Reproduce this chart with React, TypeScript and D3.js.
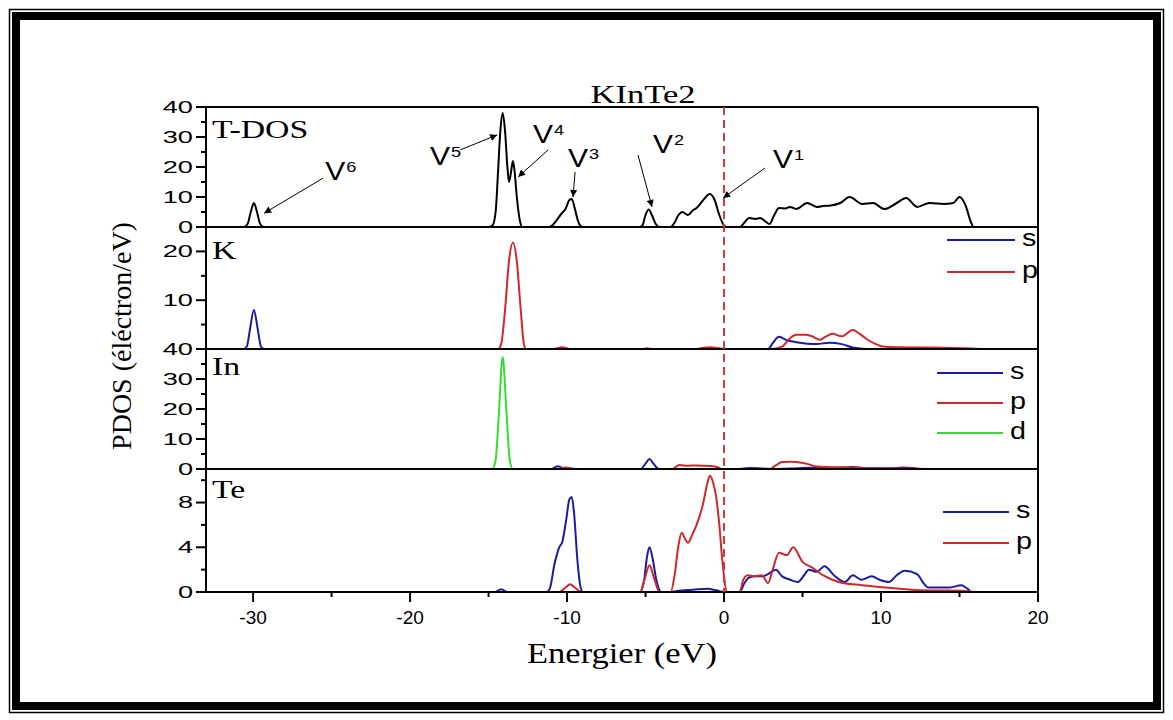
import React from 'react';
import * as d3 from 'd3';

// energy (eV) vs states
const tdos: [number, number][] = [
  [-32, 0], [-30.6, 0], [-30.35, 1], [-30.15, 5], [-29.95, 8], [-29.75, 5], [-29.55, 1], [-29.3, 0],
  [-15.0, 0], [-14.75, 0.5], [-14.55, 5], [-14.4, 18], [-14.25, 32], [-14.1, 38], [-13.95, 32], [-13.8, 20], [-13.7, 15],
  [-13.55, 19], [-13.45, 22], [-13.35, 19], [-13.2, 10], [-13.0, 2], [-12.85, 0],
  [-11.2, 0], [-11.0, 0.3], [-10.7, 2], [-10.35, 4.5], [-10.1, 6], [-9.85, 9], [-9.7, 9.3], [-9.5, 6], [-9.3, 2], [-9.1, 0.2], [-8.9, 0],
  [-5.4, 0], [-5.2, 0.5], [-5.0, 4], [-4.8, 5.8], [-4.6, 4], [-4.35, 1], [-4.1, 0],
  [-3.4, 0], [-3.15, 1.5], [-2.9, 4], [-2.65, 5], [-2.3, 4], [-2.0, 5.5], [-1.75, 6.3], [-1.4, 8.5], [-0.9, 11], [-0.6, 9],
  [-0.3, 4], [0.0, 0.5], [0.2, 0],
  [1.0, 0], [1.3, 1.5], [1.6, 3], [2.0, 2.7], [2.3, 3], [2.6, 2], [2.9, 1], [3.2, 4], [3.5, 6.3], [3.9, 6.2], [4.2, 6.7],
  [4.6, 6], [5.3, 8], [5.9, 6.7], [6.3, 7], [6.8, 7.2], [7.4, 8], [8.0, 10], [8.8, 7.7], [9.5, 8], [10.2, 6], [11.0, 8],
  [11.6, 9.7], [12.3, 6.7], [13.1, 8], [14.0, 7.7], [14.6, 8], [15.0, 10], [15.4, 7], [15.7, 2], [15.9, 0], [18, 0],
];

const kS: [number, number][] = [
  [-32, 0], [-30.6, 0], [-30.4, 0.5], [-30.2, 4], [-29.95, 8], [-29.7, 4], [-29.5, 0.5], [-29.3, 0],
  [2.8, 0], [3.1, 1.2], [3.5, 2.5], [4.0, 1.8], [4.6, 1.4], [5.3, 1.1], [5.9, 1.0], [6.7, 1.3], [7.5, 1.0], [8.2, 0.3], [9.1, 0], [18, 0],
];
const kP: [number, number][] = [
  [-32, 0], [-14.4, 0], [-14.2, 1], [-13.95, 8], [-13.7, 18], [-13.45, 21.8], [-13.2, 18], [-12.95, 8], [-12.75, 1], [-12.6, 0],
  [-10.9, 0], [-10.3, 0.35], [-9.8, 0], [-5.2, 0], [-4.9, 0.15], [-4.6, 0], [-1.8, 0], [-1.3, 0.25], [-0.9, 0.35], [-0.4, 0.2], [0.1, 0],
  [3.0, 0], [3.7, 0.5], [4.2, 2.2], [4.6, 2.9], [5.2, 2.9], [5.6, 2.6], [6.1, 1.9], [6.5, 2.6], [6.9, 3.1], [7.5, 2.6], [8.2, 3.9],
  [8.6, 3.2], [9.1, 2.0], [9.6, 1.1], [10.1, 0.5], [11, 0.35], [13, 0.3], [15.8, 0.1], [16.5, 0], [18, 0],
];

const inS: [number, number][] = [
  [-32, 0], [-11.0, 0], [-10.6, 0.9], [-10.3, 0.4], [-10.0, 0], [-5.3, 0], [-5.0, 1.8], [-4.75, 3.3], [-4.5, 1.8], [-4.15, 0],
  [1.0, 0], [1.6, 0.3], [2.4, 0.2], [3.2, 0], [4.5, 0.2], [5.9, 0.5], [6.8, 0.3], [8.2, 0.7], [9.0, 0.3], [10.5, 0.2], [11.4, 0.5],
  [12.2, 0.2], [12.6, 0], [18, 0],
];
const inP: [number, number][] = [
  [-32, 0], [-10.5, 0], [-10.1, 0.5], [-9.6, 0.1], [-9.3, 0], [-3.3, 0], [-2.85, 1.3], [-2.3, 1.1], [-1.75, 1.2], [-0.9, 1.0],
  [-0.4, 0.6], [-0.1, 0], [2.9, 0], [3.3, 1.2], [3.7, 2.3], [4.2, 2.4], [4.6, 2.3], [5.3, 1.7], [5.9, 0.8], [6.9, 0.6], [8, 0.4],
  [9.5, 0.3], [12, 0.2], [13, 0], [18, 0],
];
const inD: [number, number][] = [
  [-32, 0], [-14.75, 0], [-14.55, 3], [-14.35, 18], [-14.1, 37.3], [-13.85, 18], [-13.65, 3], [-13.45, 0], [18, 0],
];

const teS: [number, number][] = [
  [-32, 0], [-14.6, 0], [-14.2, 0.25], [-13.8, 0], [-11.3, 0], [-11.1, 0.3], [-10.8, 2.5], [-10.5, 4.0], [-10.3, 4.5], [-10.05, 6.5],
  [-9.85, 8.3], [-9.7, 8.5], [-9.55, 7], [-9.35, 3], [-9.15, 0.5], [-9.0, 0], [-5.35, 0], [-5.1, 1], [-4.9, 3.2], [-4.75, 4.0],
  [-4.55, 3], [-4.3, 1], [-4.0, 0], [-3.5, 0], [-3.0, 0.1], [-2.0, 0.2], [-1.05, 0.3], [-0.5, 0.15], [0, 0], [1.0, 0], [1.3, 0.8],
  [1.6, 1.3], [2.0, 1.4], [2.45, 1.4], [2.8, 1.6], [3.3, 2.0], [3.7, 1.4], [4.2, 1.1], [4.7, 0.9], [5.1, 1.5], [5.4, 2.0], [5.9, 1.8],
  [6.4, 2.3], [7.0, 1.5], [7.7, 0.9], [8.2, 1.5], [8.75, 1.1], [9.4, 1.4], [9.9, 1.1], [10.5, 0.9], [11.0, 1.5], [11.5, 1.9],
  [12.3, 1.6], [12.7, 0.8], [13.0, 0.4], [14.4, 0.4], [15.1, 0.6], [15.5, 0.3], [15.8, 0], [18, 0],
];
const teP: [number, number][] = [
  [-32, 0], [-10.5, 0], [-10.1, 0.4], [-9.8, 0.7], [-9.5, 0.4], [-9.1, 0], [-5.35, 0], [-5.05, 1.2], [-4.75, 2.4], [-4.45, 1.2],
  [-4.1, 0], [-3.4, 0], [-3.15, 1.5], [-2.9, 4.2], [-2.7, 5.3], [-2.5, 4.8], [-2.3, 4.4], [-2.0, 5.2], [-1.75, 6.0], [-1.35, 7.8],
  [-1.05, 9.8], [-0.9, 10.4], [-0.7, 9.8], [-0.5, 8.5], [-0.3, 6], [-0.1, 2.7], [0.2, 0], [1.0, 0], [1.2, 1.0], [1.5, 1.5],
  [1.9, 1.4], [2.4, 1.5], [2.8, 0.8], [3.1, 2.0], [3.5, 3.5], [4.0, 3.3], [4.4, 4.0], [5.0, 2.7], [5.6, 2.2], [6.3, 1.5],
  [7.3, 0.9], [8.8, 0.6], [11.2, 0.3], [12.6, 0.15], [15.4, 0.1], [16, 0], [18, 0],
];

const xMajor = [-30, -20, -10, 0, 10, 20];
const xMinor = [-25, -15, -5, 5, 15];

// peak labels V1..V6 in T-DOS data units: text pos, arrow start, arrow tip
const annotations = [
  { sup: '6', tx: -25.41, ty: 15.67, ax: -25.54, ay: 16.3, bx: -29.3, by: 4.6 },
  { sup: '5', tx: -18.73, ty: 20.67, ax: -16.8, ay: 25.7, bx: -14.45, by: 30.7 },
  { sup: '4', tx: -12.17, ty: 28, ax: -11.2, ay: 25.7, bx: -13.12, by: 16.7 },
  { sup: '3', tx: -9.94, ty: 20, ax: -9.49, ay: 18.3, bx: -9.62, by: 10 },
  { sup: '2', tx: -4.52, ty: 24.67, ax: -5.48, ay: 24, bx: -4.59, by: 6.7 },
  { sup: '1', tx: 3.12, ty: 19.67, ax: 2.61, ay: 19.67, bx: -0.06, by: 9.7 },
];

const BLUE = '#1c1ca0';
const RED = '#cc2a2a';
const GREEN = '#33dd33';
const SANS = '"Liberation Sans", Arial, sans-serif';
const SERIF = '"Liberation Serif", "Times New Roman", serif';

const L = 206, R = 1038;
const x = d3.scaleLinear().domain([-33, 20]).range([L, R]);

const panels = [
  { name: 'T-DOS', top: 107, bottom: 227, domain: [0, 40], labels: [0, 10, 20, 30, 40], major: [0, 10, 20, 30, 40], minor: [5, 15, 25, 35],
    series: [{ key: 't', data: tdos, color: '#000' }], legend: null as null | { x1: number; x2: number; ys: number[] } },
  { name: 'K', top: 227, bottom: 349, domain: [0, 25], labels: [10, 20], major: [10, 20], minor: [5, 15],
    series: [{ key: 's', data: kS, color: BLUE }, { key: 'p', data: kP, color: RED }], legend: { x1: 947, x2: 1015, ys: [240, 272] } },
  { name: 'In', top: 349, bottom: 469, domain: [0, 40], labels: [0, 40], major: [0, 10, 20, 30, 40], minor: [5, 15, 25, 35],
    series: [{ key: 's', data: inS, color: BLUE }, { key: 'p', data: inP, color: RED }, { key: 'd', data: inD, color: GREEN }],
    legend: { x1: 937, x2: 1003, ys: [373, 403, 433] } },
  { name: 'Te', top: 469, bottom: 592, domain: [0, 11], labels: [0, 4, 8], major: [0, 4, 8], minor: [2, 6, 10],
    series: [{ key: 's', data: teS, color: BLUE }, { key: 'p', data: teP, color: RED }], legend: { x1: 943, x2: 1009, ys: [512, 543] } },
];
// In panel shows labels 10..30 as well
panels[2].labels = [0, 10, 20, 30, 40];

const SText = ({ x: tx, y: ty, sx = 1, size, family, anchor = 'start', children }: any) => (
  <text transform={`translate(${tx},${ty}) scale(${sx},1)`} fontSize={size} fontFamily={family} textAnchor={anchor} fill="#000">
    {children}
  </text>
);

export default function App() {
  const top = panels[0];
  const yT = d3.scaleLinear().domain(top.domain).range([top.bottom, top.top]);
  return (
    <svg width={1173} height={720} style={{ position: 'absolute', left: 0, top: 0, background: '#fff' }}>
      <defs>
        <marker id="arr" viewBox="0 0 10 10" refX="10" refY="5" markerWidth="9" markerHeight="7" markerUnits="userSpaceOnUse" orient="auto">
          <path d="M0,0 L10,5 L0,10 z" fill="#000" />
        </marker>
      </defs>
      <rect x={0} y={0} width={1173} height={720} fill="#fff" />
      {/* double frame */}
      <rect x={9.5} y={9.5} width={1154} height={703} fill="none" stroke="#000" strokeWidth={1.5} />
      <rect x={16} y={16} width={1141} height={690} fill="none" stroke="#000" strokeWidth={8} />

      {panels.map((p) => {
        const y = d3.scaleLinear().domain(p.domain).range([p.bottom, p.top]);
        const line = d3.line<[number, number]>().x((d) => x(d[0])).y((d) => y(d[1])).curve(d3.curveMonotoneX);
        return (
          <g key={p.name}>
            {p.series.map((s) => (
              <path key={s.key} d={line(s.data) || ''} fill="none" stroke={s.color} strokeWidth={2} strokeLinejoin="round" />
            ))}
            <line x1={L} x2={R} y1={p.top} y2={p.top} stroke="#000" strokeWidth={2} />
            <line x1={L} x2={R} y1={p.bottom} y2={p.bottom} stroke="#000" strokeWidth={2} />
            {p.major.map((t) => (
              <line key={'M' + t} x1={L - 10} x2={L} y1={y(t)} y2={y(t)} stroke="#000" strokeWidth={2} />
            ))}
            {p.minor.map((t) => (
              <line key={'m' + t} x1={L - 5} x2={L} y1={y(t)} y2={y(t)} stroke="#000" strokeWidth={2} />
            ))}
            {p.labels.map((t) => (
              <SText key={'l' + t} x={193} y={y(t) + 5.5} sx={1.7} size={16} family={SANS} anchor="end">{t}</SText>
            ))}
            <SText x={212} y={y(p.domain[1]) + (p.name === 'T-DOS' ? 31 : p.name === 'K' ? 32 : p.name === 'In' ? 26 : 29)} sx={1.35} size={25} family={SERIF}>
              {p.name}
            </SText>
            {p.legend &&
              p.series.map((s, i) => (
                <g key={'lg' + s.key}>
                  <line x1={p.legend!.x1} x2={p.legend!.x2} y1={p.legend!.ys[i]} y2={p.legend!.ys[i]} stroke={s.color} strokeWidth={2} />
                  <SText x={p.legend!.x2 + 7} y={p.legend!.ys[i] + 6} sx={1.25} size={23} family={SANS}>{s.key}</SText>
                </g>
              ))}
          </g>
        );
      })}

      {/* frame sides */}
      <line x1={L} x2={L} y1={107} y2={593} stroke="#000" strokeWidth={2} />
      <line x1={R} x2={R} y1={107} y2={593} stroke="#000" strokeWidth={2} />

      {/* Fermi level */}
      <line x1={x(0)} x2={x(0)} y1={107} y2={592} stroke="#c83c3c" strokeWidth={2} strokeDasharray="8,5" />

      {/* energy axis */}
      {xMajor.map((t) => (
        <g key={'x' + t}>
          <line x1={x(t)} x2={x(t)} y1={592} y2={602} stroke="#000" strokeWidth={2} />
          <SText x={x(t)} y={624} size={19} family={SANS} anchor="middle">{t}</SText>
        </g>
      ))}
      {xMinor.map((t) => (
        <line key={'xm' + t} x1={x(t)} x2={x(t)} y1={592} y2={597} stroke="#000" strokeWidth={2} />
      ))}

      {/* peak annotations */}
      {annotations.map((a) => (
        <g key={'v' + a.sup}>
          <line x1={x(a.ax)} y1={yT(a.ay)} x2={x(a.bx)} y2={yT(a.by)} stroke="#000" strokeWidth={1} markerEnd="url(#arr)" />
          <SText x={x(a.tx)} y={yT(a.ty)} sx={1.2} size={25} family={SANS}>V</SText>
          <SText x={x(a.tx) + 21} y={yT(a.ty) - 8} sx={1.3} size={14} family={SANS}>{a.sup}</SText>
        </g>
      ))}

      <SText x={643} y={103} sx={1.33} size={26} family={SERIF} anchor="middle">KInTe2</SText>
      <SText x={622} y={663} sx={1.15} size={30} family={SERIF} anchor="middle">Energier (eV)</SText>
      <text transform="translate(131,336) rotate(-90)" fontSize={28} fontFamily={SERIF} textAnchor="middle">
        PDOS (éléctron/eV)
      </text>
    </svg>
  );
}
